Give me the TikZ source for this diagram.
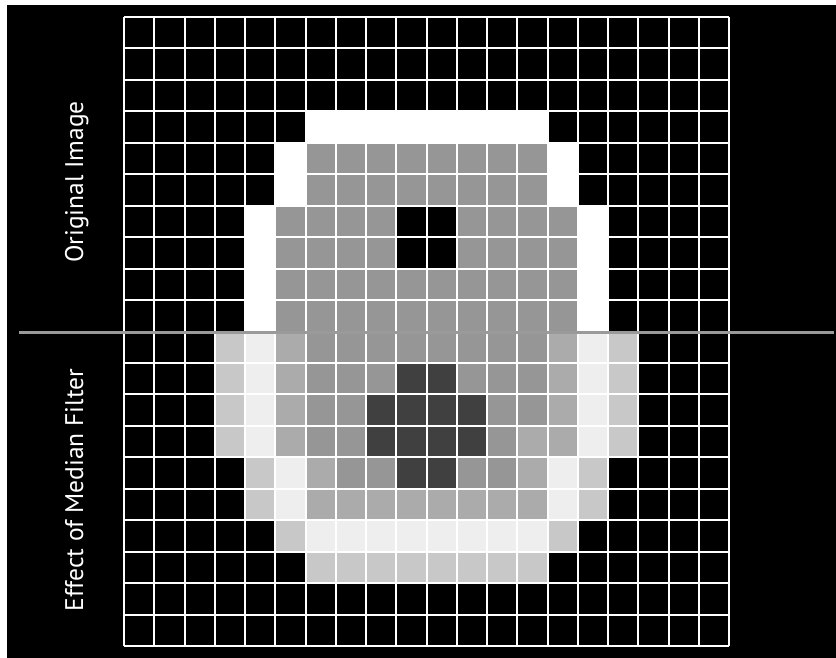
\documentclass[tikz,border=0pt]{standalone}
\usepackage{fontspec}
\setsansfont{PT Sans}
\usepackage{xcolor}
\definecolor{bk}{HTML}{000000}
\definecolor{gy}{HTML}{969696}
\definecolor{dk}{HTML}{404040}
\definecolor{md}{HTML}{ABABAB}
\definecolor{lt}{HTML}{C8C8C8}
\definecolor{wt}{HTML}{EEEEEE}
\definecolor{gridwhite}{HTML}{FFFFFF}
\definecolor{rulegray}{HTML}{9A9A9A}

\begin{document}
\begin{tikzpicture}[x=1pt,y=-1pt, every node/.style={font=\sffamily\fontsize{25.5}{30}\selectfont,text=white,rotate=90,anchor=base,inner sep=0pt}]
\useasboundingbox (0,0) rectangle (836,658);
\fill[white] (0,0) rectangle (836,658);
\fill[black] (7,5) rectangle (836,658);
\begin{scope}[shift={(124,17)},x=30.25pt,y=-31.45pt]
\fill[white] (6,3) rectangle (14,4);
\fill[white] (5,4) rectangle (6,6);
\fill[white] (14,4) rectangle (15,6);
\fill[white] (4,6) rectangle (5,10);
\fill[white] (15,6) rectangle (16,10);
\fill[gy] (6,4) rectangle (14,6);
\fill[gy] (5,6) rectangle (15,10);
\fill[black] (9,6) rectangle (11,8);
\foreach \r/\row in {
  10/{lt,wt,md,gy,gy,gy,gy,gy,gy,gy,gy,md,wt,lt},
  11/{lt,wt,md,gy,gy,gy,dk,dk,gy,gy,gy,md,wt,lt},
  12/{lt,wt,md,gy,gy,dk,dk,dk,dk,gy,gy,md,wt,lt},
  13/{lt,wt,md,gy,gy,dk,dk,dk,dk,gy,md,md,wt,lt},
  14/{bk,lt,wt,md,gy,gy,dk,dk,gy,gy,md,wt,lt,bk},
  15/{bk,lt,wt,md,md,md,md,md,md,md,md,wt,lt,bk},
  16/{bk,bk,lt,wt,wt,wt,wt,wt,wt,wt,wt,lt,bk,bk},
  17/{bk,bk,bk,lt,lt,lt,lt,lt,lt,lt,lt,bk,bk,bk}}
  \foreach \v [count=\c from 3] in \row
    \fill[\v] (\c,\r) rectangle ++(1,1);
\foreach \i in {0,...,20}{
  \draw[gridwhite,line width=2pt] (\i,0) -- (\i,20);
  \draw[gridwhite,line width=2pt] (0,\i) -- (20,\i);
}
\end{scope}
\draw[rulegray,line width=3pt] (19,332) -- (834,332);
\node (orig) at (83,182) {Original Image};
\node (median) at (83,490) {Effect of Median Filter};
\end{tikzpicture}
\end{document}
